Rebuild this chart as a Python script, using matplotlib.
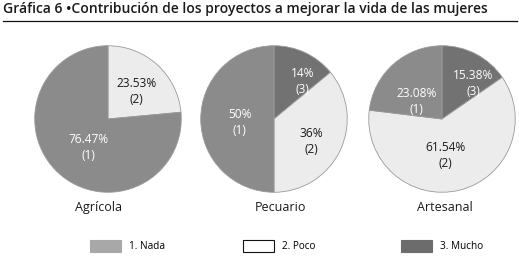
import matplotlib
matplotlib.use("Agg")
import matplotlib.pyplot as plt
from matplotlib.lines import Line2D
from matplotlib.patches import Patch

plt.rcParams['font.family'] = ['Open Sans', 'DejaVu Sans']

# ---- data ----
title = "Gráfica 6 \u2022Contribución de los proyectos a mejorar la vida de las mujeres"
categories = ["Agrícola", "Pecuario", "Artesanal"]
levels = ["1. Nada", "2. Poco", "3. Mucho"]
level_ids = ["(1)", "(2)", "(3)"]
nada = [76.47, 50.0, 23.08]
poco = [23.53, 36.0, 61.54]
mucho = [0.0, 14.0, 15.38]
pct_fmt = ["{:.2f}%", "{:.0f}%", "{:.2f}%"]

# ---- style / layout ----
W, H = 519, 256
pie_colors = ["#8b8b8b", "#ececec", "#727272"]       # Nada, Poco, Mucho
legend_colors = ["#a8a8a8", "#ffffff", "#6c6c6c"]
text_colors = ["white", "#1a1a1a", "white"]
centers_x = [108, 274, 442]
center_y = 119
radius = 74
cat_label_x = [98.5, 280, 445]
# label offsets (in pie-radius units) for Nada, Poco, Mucho in each pie
label_offsets = [
    [(-0.27, -0.39), (0.39, 0.38), (0.0, 0.0)],
    [(-0.47, -0.05), (0.51, -0.31), (0.39, 0.51)],
    [(-0.35, 0.24), (0.05, -0.50), (0.43, 0.49)],
]
legend_x = [90, 243, 401]

fig = plt.figure(figsize=(W / 100, H / 100), dpi=100)
fig.patch.set_facecolor("white")

# title and rule
fig.text(3 / W, 1 - 13.5 / H, title, fontsize=10, fontweight="semibold",
         color="#1a1a1a", ha="left", va="baseline")
fig.add_artist(Line2D([3 / W, 517 / W], [1 - 20.5 / H, 1 - 20.5 / H],
                      transform=fig.transFigure, color="#111111", lw=0.9))

for i, cat in enumerate(categories):
    cx = centers_x[i]
    ax = fig.add_axes([(cx - radius) / W, (H - center_y - radius) / H,
                       2 * radius / W, 2 * radius / H])
    # clockwise from 12 o'clock: Mucho, Poco, Nada
    vals = [mucho[i], poco[i], nada[i]]
    idx = [2, 1, 0]
    keep = [k for k, v in enumerate(vals) if v > 0]
    v_use = [vals[k] for k in keep]
    i_use = [idx[k] for k in keep]
    wedges, _ = ax.pie(v_use, colors=[pie_colors[j] for j in i_use],
                       startangle=90, counterclock=False, radius=1,
                       wedgeprops=dict(edgecolor="#9a9a9a", linewidth=0.6))
    for w, v, j in zip(wedges, v_use, i_use):
        ox, oy = label_offsets[i][j]
        ax.text(ox, oy, pct_fmt[i].format(v) + "\n" + level_ids[j],
                ha="center", va="center", fontsize=8.6, fontweight=500,
                color=text_colors[j], linespacing=1.3)
    ax.set_xlim(-1.01, 1.01)
    ax.set_ylim(-1.01, 1.01)
    ax.axis("off")
    fig.text(cat_label_x[i] / W, 1 - 211 / H, cat, fontsize=9,
             color="#1a1a1a", ha="center", va="baseline")

for k in range(3):
    h = Patch(facecolor=legend_colors[k],
              edgecolor=("#111111" if k == 1 else legend_colors[k]),
              linewidth=0.8)
    fig.legend([h], [levels[k]], frameon=False, fontsize=7.2,
               loc="center left", bbox_to_anchor=(legend_x[k] / W, 1 - 246 / H),
               handlelength=3.1, handleheight=1.55, handletextpad=0.8,
               borderpad=0, borderaxespad=0)

fig.savefig("out.png", dpi=100, facecolor="white")
